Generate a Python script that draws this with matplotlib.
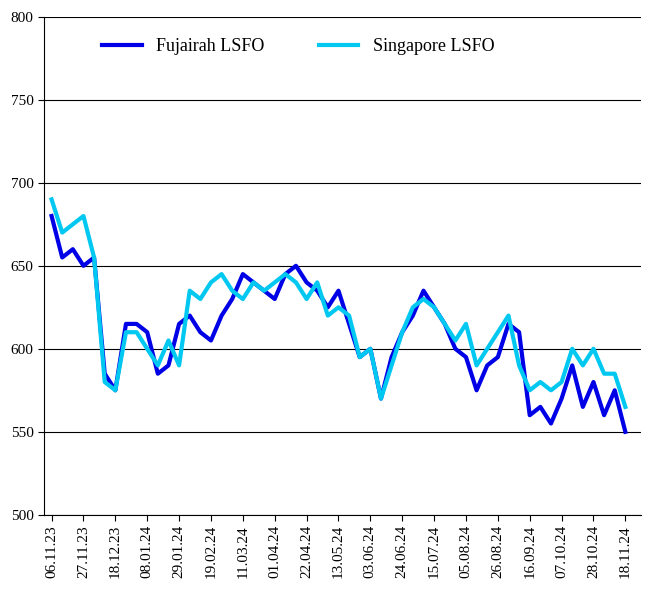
import datetime as dt
import matplotlib
matplotlib.use('Agg')
import matplotlib.pyplot as plt
import matplotlib.dates as mdates

plt.rcParams['font.family'] = 'Liberation Serif'

start = dt.date(2023, 11, 6)
weeks = [start + dt.timedelta(weeks=i) for i in range(55)]

fujairah = [680, 655, 660, 650, 655, 585, 575, 615, 615, 610,
            585, 590, 615, 620, 610, 605, 620, 630, 645, 640,
            635, 630, 645, 650, 640, 635, 625, 635, 615, 595,
            600, 570, 595, 610, 620, 635, 625, 615, 600, 595,
            575, 590, 595, 615, 610, 560, 565, 555, 570, 590,
            565, 580, 560, 575, 550]
singapore = [690, 670, 675, 680, 655, 580, 575, 610, 610, 600,
             590, 605, 590, 635, 630, 640, 645, 635, 630, 640,
             635, 640, 645, 640, 630, 640, 620, 625, 620, 595,
             600, 570, 590, 610, 625, 630, 625, 615, 605, 615,
             590, 600, 610, 620, 590, 575, 580, 575, 580, 600,
             590, 600, 585, 585, 565]

fig = plt.figure(figsize=(6.47, 6.0), dpi=100)
ax = fig.add_axes([0.068, 0.142, 0.922, 0.830])

ax.plot(weeks, fujairah, color='#0000E6', lw=3, label='Fujairah LSFO')
ax.plot(weeks, singapore, color='#00C8F0', lw=3, label='Singapore LSFO')

ax.set_ylim(500, 800)
ax.set_yticks(range(500, 801, 50))
ax.set_xlim(weeks[0] - dt.timedelta(days=5), weeks[-1] + dt.timedelta(days=10))
ax.set_xticks(weeks[::3])
ax.xaxis.set_major_formatter(mdates.DateFormatter('%d.%m.%y'))
plt.setp(ax.get_xticklabels(), rotation=90)
ax.tick_params(labelsize=11, direction='out', length=4)
ax.grid(axis='y', color='black', lw=0.8)
for s in ['top', 'right']:
    ax.spines[s].set_visible(False)

ax.legend(loc='upper left', bbox_to_anchor=(0.07, 0.99), ncol=2, frameon=False,
          fontsize=13, handlelength=2.2, columnspacing=3)

fig.savefig('out.png')
